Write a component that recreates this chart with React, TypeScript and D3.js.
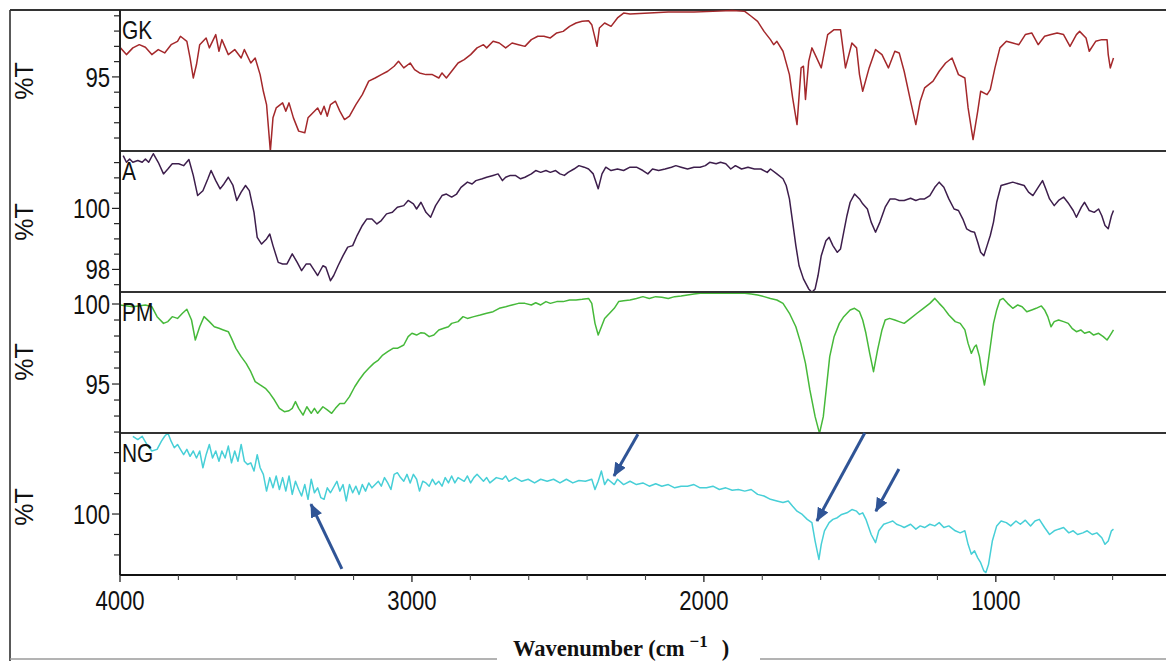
import React from "react";
import * as d3 from "d3";

// FTIR spectra, [wavenumber cm-1, %T]
const gkData: [number, number][] = [
  [4000, 96.94], [3978, 96.46], [3956, 96.9], [3934, 97.11], [3913, 96.94], [3891, 96.46], [3869, 96.79], [3847, 96.57],
  [3825, 97.11], [3803, 97.33], [3793, 97.66], [3771, 97.33], [3760, 96.24], [3749, 94.93], [3738, 95.81], [3727, 97.11],
  [3705, 97.55], [3694, 96.9], [3672, 97.77], [3661, 96.68], [3651, 97.44], [3629, 96.46], [3607, 96.79], [3585, 96.24],
  [3574, 96.79], [3552, 95.91], [3537, 96.24], [3520, 95.15], [3509, 94.06], [3498, 93.19], [3485, 90.14], [3476, 92.32],
  [3465, 92.97], [3443, 93.3], [3432, 92.76], [3421, 93.3], [3406, 92.32], [3388, 91.45], [3367, 91.34], [3356, 92.32],
  [3345, 92.54], [3323, 92.97], [3312, 92.54], [3301, 93.08], [3290, 92.43], [3279, 93.19], [3262, 93.41], [3247, 92.76],
  [3231, 92.21], [3214, 92.43], [3192, 93.19], [3170, 93.84], [3148, 94.72], [3126, 94.93], [3105, 95.15], [3083, 95.37],
  [3061, 95.7], [3046, 96.02], [3028, 95.59], [3006, 95.91], [2991, 95.48], [2974, 95.26], [2952, 95.15], [2930, 95.15],
  [2908, 94.93], [2897, 95.26], [2882, 94.93], [2864, 95.37], [2842, 95.91], [2821, 96.13], [2799, 96.46], [2777, 96.9],
  [2755, 97.11], [2744, 96.9], [2722, 97.33], [2701, 97.22], [2679, 96.9], [2657, 97.22], [2635, 97.11], [2613, 97.0],
  [2591, 97.44], [2569, 97.66], [2548, 97.66], [2526, 97.55], [2504, 97.88], [2482, 97.98], [2460, 98.31], [2438, 98.53],
  [2417, 98.64], [2395, 98.68], [2384, 98.42], [2366, 97.0], [2358, 98.2], [2340, 98.53], [2318, 98.31], [2296, 98.86],
  [2275, 99.18], [2253, 99.12], [2187, 99.18], [2122, 99.25], [2034, 99.25], [1969, 99.29], [1903, 99.34], [1860, 99.29],
  [1838, 98.97], [1816, 98.64], [1794, 97.98], [1772, 97.44], [1761, 97.11], [1750, 97.33], [1729, 96.68], [1707, 95.15],
  [1696, 93.63], [1681, 91.88], [1667, 95.59], [1659, 95.7], [1652, 93.52], [1641, 96.02], [1630, 96.9], [1619, 96.46],
  [1598, 95.59], [1576, 97.77], [1554, 98.09], [1532, 98.09], [1515, 95.59], [1493, 97.22], [1477, 96.9], [1467, 95.15],
  [1456, 94.06], [1434, 95.59], [1412, 96.79], [1390, 96.46], [1368, 95.59], [1346, 96.68], [1331, 96.57], [1314, 95.37],
  [1292, 93.41], [1274, 91.88], [1259, 93.41], [1244, 94.28], [1215, 94.72], [1194, 95.37], [1172, 95.91], [1150, 96.24],
  [1128, 95.15], [1106, 94.93], [1095, 92.97], [1078, 90.9], [1062, 92.76], [1052, 94.06], [1030, 93.84], [1019, 94.17],
  [1003, 95.59], [986, 96.9], [964, 97.33], [942, 97.22], [921, 97.11], [899, 97.77], [877, 97.88], [855, 97.11],
  [833, 97.66], [811, 97.77], [790, 97.88], [768, 97.77], [746, 97.0], [724, 97.77], [713, 97.98], [691, 97.55],
  [680, 96.68], [658, 97.33], [637, 97.44], [619, 97.44], [615, 96.46], [608, 95.59], [597, 96.24],
];

const aData: [number, number][] = [
  [3989, 101.73], [3978, 101.51], [3967, 101.62], [3956, 101.51], [3939, 101.57], [3924, 101.51], [3913, 101.62], [3902, 101.51],
  [3886, 101.79], [3869, 101.51], [3851, 101.13], [3836, 101.29], [3821, 101.46], [3799, 101.46], [3782, 101.4], [3764, 101.6],
  [3749, 101.08], [3734, 100.42], [3716, 100.58], [3699, 100.97], [3688, 101.24], [3672, 100.91], [3657, 100.64], [3644, 100.8],
  [3629, 101.02], [3613, 100.75], [3600, 100.26], [3585, 100.53], [3570, 100.75], [3557, 100.58], [3541, 99.87], [3530, 99.05],
  [3515, 98.83], [3498, 99.0], [3487, 99.16], [3476, 98.78], [3458, 98.23], [3443, 98.18], [3428, 98.18], [3410, 98.51],
  [3393, 98.23], [3378, 97.96], [3362, 98.18], [3349, 98.18], [3334, 97.96], [3323, 97.8], [3305, 98.12], [3295, 98.07],
  [3279, 97.63], [3268, 97.8], [3253, 98.12], [3236, 98.45], [3220, 98.73], [3203, 98.78], [3188, 99.11], [3170, 99.44],
  [3155, 99.65], [3137, 99.65], [3120, 99.49], [3105, 99.6], [3087, 99.82], [3067, 99.87], [3050, 100.04], [3028, 100.09],
  [3013, 100.26], [2995, 100.15], [2984, 99.98], [2969, 100.2], [2952, 99.87], [2936, 99.71], [2919, 100.09], [2897, 100.42],
  [2882, 100.47], [2864, 100.37], [2847, 100.47], [2832, 100.69], [2810, 100.86], [2794, 100.8], [2781, 100.91], [2759, 100.97],
  [2744, 101.02], [2722, 101.08], [2705, 101.13], [2690, 100.91], [2679, 101.02], [2663, 101.08], [2646, 101.08], [2628, 100.97],
  [2613, 101.02], [2591, 101.13], [2576, 101.24], [2559, 101.18], [2541, 101.24], [2526, 101.18], [2508, 101.24], [2493, 101.13],
  [2478, 101.08], [2465, 101.18], [2445, 101.29], [2428, 101.4], [2410, 101.35], [2395, 101.29], [2379, 101.13], [2362, 100.64],
  [2349, 101.13], [2336, 101.35], [2318, 101.24], [2296, 101.29], [2275, 101.24], [2253, 101.35], [2231, 101.35], [2209, 101.24],
  [2192, 101.13], [2176, 101.29], [2155, 101.24], [2133, 101.29], [2111, 101.35], [2096, 101.4], [2078, 101.35], [2056, 101.29],
  [2034, 101.35], [2013, 101.35], [1995, 101.4], [1980, 101.51], [1958, 101.46], [1943, 101.51], [1925, 101.46], [1908, 101.29],
  [1892, 101.4], [1871, 101.29], [1849, 101.35], [1827, 101.29], [1805, 101.29], [1783, 101.18], [1772, 101.29], [1750, 101.13],
  [1729, 100.97], [1718, 100.75], [1707, 100.31], [1696, 99.55], [1685, 98.78], [1674, 98.12], [1659, 97.69], [1641, 97.36],
  [1630, 97.25], [1619, 97.36], [1609, 97.8], [1598, 98.45], [1582, 98.94], [1571, 99.05], [1558, 98.78], [1543, 98.56],
  [1532, 98.67], [1521, 99.22], [1510, 99.76], [1499, 100.2], [1484, 100.47], [1467, 100.31], [1456, 100.15], [1440, 99.98],
  [1427, 99.55], [1412, 99.22], [1397, 99.55], [1379, 100.04], [1362, 100.31], [1346, 100.31], [1331, 100.26], [1314, 100.26],
  [1292, 100.33], [1274, 100.26], [1259, 100.31], [1244, 100.31], [1226, 100.42], [1209, 100.69], [1194, 100.86], [1178, 100.69],
  [1161, 100.31], [1143, 99.98], [1128, 99.93], [1113, 99.65], [1100, 99.33], [1084, 99.24], [1073, 99.22], [1062, 98.89],
  [1052, 98.56], [1041, 98.45], [1030, 98.78], [1019, 99.11], [1008, 99.55], [997, 100.2], [982, 100.75], [964, 100.8],
  [942, 100.86], [921, 100.8], [903, 100.75], [888, 100.53], [873, 100.42], [855, 100.69], [840, 100.91], [829, 100.64],
  [816, 100.31], [800, 100.09], [785, 100.26], [768, 100.37], [750, 100.15], [735, 99.93], [724, 99.71], [707, 100.04],
  [696, 100.2], [680, 99.93], [663, 99.87], [648, 99.98], [637, 99.76], [626, 99.44], [615, 99.33], [604, 99.76], [597, 99.93],
];

const pmData: [number, number][] = [
  [4000, 99.94], [3956, 99.83], [3913, 99.94], [3891, 99.83], [3873, 99.21], [3851, 98.79], [3836, 98.9], [3821, 99.21],
  [3803, 99.1], [3786, 99.42], [3771, 99.67], [3755, 99.0], [3742, 97.75], [3727, 98.58], [3712, 99.21], [3694, 98.9],
  [3677, 98.58], [3661, 98.48], [3646, 98.38], [3629, 98.27], [3618, 97.85], [3603, 97.23], [3585, 96.71], [3568, 96.29],
  [3552, 95.77], [3537, 95.15], [3520, 94.94], [3502, 94.73], [3487, 94.42], [3471, 94.0], [3454, 93.48], [3437, 93.27],
  [3421, 93.33], [3410, 93.48], [3399, 93.9], [3388, 93.48], [3373, 93.06], [3360, 93.58], [3345, 93.17], [3334, 93.48],
  [3323, 93.17], [3305, 93.58], [3290, 93.38], [3275, 93.17], [3262, 93.48], [3247, 93.79], [3231, 93.79], [3214, 94.21],
  [3196, 94.83], [3181, 95.25], [3164, 95.67], [3148, 95.98], [3131, 96.29], [3115, 96.5], [3100, 96.81], [3083, 97.02],
  [3065, 97.23], [3050, 97.23], [3028, 97.44], [3013, 97.96], [3000, 98.17], [2984, 98.06], [2969, 98.21], [2956, 98.17],
  [2941, 97.96], [2925, 98.06], [2908, 98.38], [2891, 98.48], [2875, 98.58], [2864, 98.79], [2842, 98.9], [2825, 99.21],
  [2810, 99.1], [2788, 99.21], [2766, 99.31], [2744, 99.42], [2722, 99.52], [2701, 99.73], [2679, 99.83], [2657, 99.94],
  [2635, 100.04], [2613, 100.04], [2591, 99.94], [2576, 100.08], [2559, 99.94], [2541, 100.15], [2526, 100.04], [2504, 100.15],
  [2482, 100.15], [2460, 100.25], [2438, 100.25], [2417, 100.29], [2395, 100.35], [2384, 100.04], [2373, 98.79], [2362, 98.06],
  [2351, 98.58], [2340, 99.1], [2323, 99.42], [2307, 99.73], [2292, 100.15], [2275, 100.21], [2253, 100.25], [2231, 100.35],
  [2209, 100.46], [2187, 100.35], [2165, 100.46], [2144, 100.42], [2122, 100.35], [2100, 100.46], [2078, 100.5], [2056, 100.56],
  [2034, 100.62], [2013, 100.67], [1947, 100.67], [1860, 100.67], [1838, 100.62], [1816, 100.56], [1794, 100.46], [1772, 100.35],
  [1750, 100.25], [1729, 100.04], [1707, 99.42], [1685, 98.58], [1668, 97.54], [1652, 96.29], [1637, 94.63], [1619, 92.96],
  [1604, 91.92], [1591, 92.96], [1580, 94.83], [1569, 96.71], [1554, 97.96], [1536, 98.79], [1521, 99.21], [1499, 99.63],
  [1484, 99.73], [1467, 99.52], [1456, 99.0], [1445, 98.17], [1432, 96.92], [1419, 95.77], [1405, 97.13], [1390, 98.38],
  [1379, 99.0], [1364, 99.1], [1346, 99.0], [1331, 98.9], [1314, 98.79], [1292, 99.1], [1270, 99.42], [1248, 99.73],
  [1226, 100.04], [1209, 100.35], [1194, 100.04], [1178, 99.73], [1161, 99.31], [1139, 98.9], [1122, 98.79], [1106, 98.38],
  [1095, 97.54], [1084, 96.92], [1073, 97.33], [1067, 97.44], [1056, 96.71], [1047, 95.67], [1039, 94.94], [1030, 95.88],
  [1019, 97.33], [1008, 98.79], [997, 99.63], [986, 100.25], [975, 100.35], [960, 100.04], [942, 99.73], [925, 99.94],
  [910, 99.83], [894, 99.52], [877, 99.63], [862, 99.73], [844, 99.88], [833, 99.63], [822, 99.21], [811, 98.58],
  [800, 98.9], [785, 99.0], [768, 98.9], [752, 98.79], [739, 98.48], [724, 98.27], [709, 98.38], [696, 98.17],
  [680, 98.27], [665, 98.06], [648, 98.17], [632, 97.96], [619, 97.75], [608, 98.06], [597, 98.38],
];

const ngData: [number, number][] = [
  [3956, 101.9], [3939, 101.82], [3924, 101.9], [3908, 101.7], [3891, 101.54], [3873, 101.58], [3858, 101.78], [3847, 101.9],
  [3836, 101.98], [3825, 101.78], [3814, 101.62], [3803, 101.7], [3793, 101.58], [3782, 101.45], [3771, 101.58], [3760, 101.41],
  [3749, 101.54], [3738, 101.37], [3727, 101.54], [3716, 101.13], [3705, 101.45], [3694, 101.7], [3683, 101.37], [3672, 101.54],
  [3661, 101.29], [3651, 101.54], [3640, 101.37], [3629, 101.66], [3618, 101.25], [3607, 101.54], [3596, 101.29], [3585, 101.7],
  [3574, 101.29], [3563, 101.21], [3552, 101.25], [3541, 101.05], [3530, 101.45], [3520, 101.13], [3509, 100.97], [3498, 100.56],
  [3487, 100.89], [3476, 100.64], [3465, 100.93], [3454, 100.6], [3443, 100.89], [3432, 100.56], [3421, 100.93], [3410, 100.48],
  [3399, 100.8], [3388, 100.6], [3378, 100.44], [3367, 100.72], [3356, 100.36], [3345, 100.85], [3334, 100.52], [3323, 100.64],
  [3312, 100.4], [3301, 100.36], [3290, 100.64], [3279, 100.52], [3257, 100.8], [3247, 100.56], [3236, 100.72], [3225, 100.32],
  [3214, 100.72], [3203, 100.52], [3192, 100.68], [3181, 100.48], [3170, 100.72], [3159, 100.56], [3148, 100.76], [3137, 100.64],
  [3126, 100.72], [3115, 100.8], [3105, 100.68], [3094, 100.89], [3083, 100.76], [3072, 100.6], [3061, 100.97], [3050, 101.01],
  [3039, 100.89], [3028, 100.8], [3017, 100.97], [3006, 100.76], [2995, 100.97], [2984, 100.85], [2974, 100.56], [2963, 100.8],
  [2952, 100.76], [2941, 100.68], [2930, 100.85], [2919, 100.72], [2908, 100.8], [2897, 100.68], [2886, 100.89], [2875, 100.76],
  [2864, 100.93], [2853, 100.76], [2842, 100.89], [2821, 100.8], [2810, 100.93], [2799, 100.76], [2788, 100.89], [2777, 100.97],
  [2755, 100.8], [2744, 100.89], [2733, 100.76], [2711, 100.89], [2690, 100.85], [2679, 100.93], [2668, 100.8], [2646, 100.89],
  [2624, 100.8], [2602, 100.85], [2580, 100.76], [2559, 100.85], [2537, 100.8], [2515, 100.85], [2493, 100.76], [2471, 100.85],
  [2449, 100.76], [2428, 100.82], [2406, 100.8], [2384, 100.85], [2373, 100.6], [2362, 100.8], [2351, 101.05], [2340, 100.72],
  [2329, 100.85], [2307, 100.72], [2296, 100.85], [2275, 100.72], [2253, 100.8], [2231, 100.72], [2209, 100.76], [2187, 100.68],
  [2165, 100.74], [2144, 100.68], [2122, 100.72], [2100, 100.64], [2078, 100.68], [2056, 100.68], [2034, 100.72], [2013, 100.64],
  [1991, 100.64], [1969, 100.68], [1947, 100.6], [1925, 100.64], [1903, 100.58], [1882, 100.6], [1860, 100.56], [1838, 100.6],
  [1816, 100.48], [1794, 100.44], [1772, 100.36], [1750, 100.32], [1729, 100.28], [1711, 100.32], [1696, 100.19], [1681, 100.07],
  [1663, 99.99], [1646, 99.87], [1630, 99.79], [1619, 99.34], [1606, 98.89], [1598, 99.26], [1587, 99.59], [1571, 99.79],
  [1558, 99.87], [1543, 99.91], [1528, 99.99], [1510, 100.03], [1493, 100.11], [1477, 100.07], [1467, 99.99], [1456, 100.03],
  [1445, 99.87], [1427, 99.5], [1412, 99.3], [1401, 99.59], [1384, 99.75], [1368, 99.79], [1353, 99.83], [1340, 99.75],
  [1325, 99.71], [1314, 99.67], [1292, 99.75], [1274, 99.63], [1259, 99.71], [1244, 99.67], [1226, 99.75], [1209, 99.71],
  [1194, 99.79], [1178, 99.67], [1161, 99.71], [1139, 99.59], [1122, 99.54], [1106, 99.59], [1095, 99.26], [1084, 99.02],
  [1073, 99.1], [1062, 98.93], [1052, 98.81], [1041, 98.61], [1034, 98.57], [1025, 98.77], [1012, 99.34], [997, 99.71],
  [982, 99.83], [964, 99.79], [949, 99.71], [931, 99.83], [916, 99.75], [899, 99.85], [881, 99.71], [866, 99.83],
  [851, 99.87], [833, 99.67], [816, 99.5], [800, 99.59], [785, 99.63], [768, 99.67], [750, 99.54], [735, 99.59],
  [720, 99.5], [702, 99.54], [687, 99.59], [670, 99.5], [654, 99.54], [637, 99.42], [626, 99.26], [615, 99.34],
  [604, 99.59], [597, 99.63],
];

// arrows on the NG trace: [fromWn, fromT, toWn, toT]
const ngArrows: [number, number, number, number][] = [
  [3240, 98.66, 3346, 100.24],
  [2226, 101.95, 2308, 100.93],
  [1449, 101.98, 1613, 99.83],
  [1332, 101.1, 1411, 100.07],
];

const xTicksMajor = [4000, 3000, 2000, 1000];
const xTicksMinor = d3.range(3800, 400, -200).filter((v) => v % 1000 !== 0);

const panels = [
  { name: "GK", data: gkData, color: "#a4282b", top: 10, bottom: 151, domain: [90.15, 99.38], step: 1, labels: [95] },
  { name: "A", data: aData, color: "#3d1e4c", top: 151, bottom: 292, domain: [97.26, 101.88], step: 0.5, labels: [98, 100] },
  { name: "PM", data: pmData, color: "#46b93a", top: 292, bottom: 433, domain: [91.94, 100.75], step: 1, labels: [95, 100] },
  { name: "NG", data: ngData, color: "#47cfd7", top: 433, bottom: 575, domain: [98.51, 101.98], step: 0.5, labels: [100] },
];

const yLabelCenters = [81, 222, 362, 507];

export default function App() {
  const width = 1166;
  const height = 661;
  const left = 120;
  const axisY = 575;
  const x = d3.scaleLinear().domain([4000, 400]).range([left, 1171]);
  const numFont = "'Liberation Sans', Arial, sans-serif";

  const ngPanel = panels[3];
  const ngY = d3.scaleLinear().domain(ngPanel.domain).range([ngPanel.bottom, ngPanel.top]);

  return (
    <svg width={width} height={height} style={{ position: "absolute", left: 0, top: 0, background: "#fff" }}>
      <defs>
        {panels.map((p, i) => (
          <clipPath id={"clip" + i} key={i}>
            <rect x={left} y={p.top - 1} width={width - left} height={p.bottom - p.top + 2} />
          </clipPath>
        ))}
        <marker id="arrowHead" viewBox="0 0 14 12" refX="13" refY="6" markerWidth="14" markerHeight="12"
          markerUnits="userSpaceOnUse" orient="auto">
          <path d="M0,0 L14,6 L0,12 Z" fill="#2f5496" />
        </marker>
      </defs>

      {/* outer frame */}
      <line x1={10} x2={10} y1={10} y2={661} stroke="#222" strokeWidth={1.5} />
      <line x1={10} x2={width} y1={10} y2={10} stroke="#333" strokeWidth={2} />
      <line x1={10} x2={width} y1={659} y2={659} stroke="#9a9a9a" strokeWidth={1.5} />

      {panels.map((p, i) => {
        const y = d3.scaleLinear().domain(p.domain).range([p.bottom, p.top]);
        const line = d3.line<[number, number]>().x((d) => x(d[0])).y((d) => y(d[1]));
        const ticks = d3.range(Math.ceil(p.domain[0] / p.step) * p.step, p.domain[1], p.step);
        return (
          <g key={p.name}>
            <path d={line(p.data) || ""} fill="none" stroke={p.color} strokeWidth={1.5}
              strokeLinejoin="round" clipPath={`url(#clip${i})`} />
            {i > 0 && <line x1={left} x2={width} y1={p.top} y2={p.top} stroke="#333" strokeWidth={2} />}
            {ticks.map((t) => (
              <line key={t} x1={p.labels.includes(t) ? left - 8 : left - 6} x2={left} y1={y(t)} y2={y(t)}
                stroke="#222" strokeWidth={1.2} />
            ))}
            {p.labels.map((t) => (
              <text key={t} transform={`translate(110,${y(t) + 10}) scale(0.82,1)`} textAnchor="end"
                fontFamily={numFont} fontSize={27} fill="#111">{t}</text>
            ))}
            <text transform={`translate(122,${p.top + 29}) scale(0.82,1)`} fontFamily={numFont}
              fontSize={25.5} fill="#111">{p.name}</text>
            <text transform={`translate(33,${yLabelCenters[i]}) rotate(-90)`} textAnchor="middle"
              fontFamily={numFont} fontSize={25} fill="#111">%T</text>
          </g>
        );
      })}

      {/* axes */}
      <line x1={left} x2={left} y1={10} y2={axisY} stroke="#222" strokeWidth={2} />
      <line x1={left} x2={width} y1={axisY} y2={axisY} stroke="#111" strokeWidth={2.2} />
      {xTicksMajor.map((t) => (
        <g key={t}>
          <line x1={x(t)} x2={x(t)} y1={axisY} y2={axisY + 7} stroke="#222" strokeWidth={1.3} />
          <text transform={`translate(${x(t)},610) scale(0.82,1)`} textAnchor="middle"
            fontFamily={numFont} fontSize={27} fill="#111">{t}</text>
        </g>
      ))}
      {xTicksMinor.map((t) => (
        <line key={t} x1={x(t)} x2={x(t)} y1={axisY} y2={axisY + 5} stroke="#444" strokeWidth={1.1} />
      ))}

      {/* arrows */}
      {ngArrows.map((a, i) => (
        <line key={i} x1={x(a[0])} y1={ngY(a[1])} x2={x(a[2])} y2={ngY(a[3])}
          stroke="#2f5496" strokeWidth={3} markerEnd="url(#arrowHead)" />
      ))}

      {/* x title */}
      <rect x={497} y={630} width={263} height={31} fill="#fff" />
      <text x={513} y={656} fontFamily="'Liberation Serif', 'Times New Roman', serif" fontWeight="bold"
        fontSize={22.5} fill="#111">
        Wavenumber (cm
        <tspan dx={5} dy={-9} fontSize={17}>−1</tspan>
        <tspan dx={14} dy={9}>)</tspan>
      </text>
    </svg>
  );
}
